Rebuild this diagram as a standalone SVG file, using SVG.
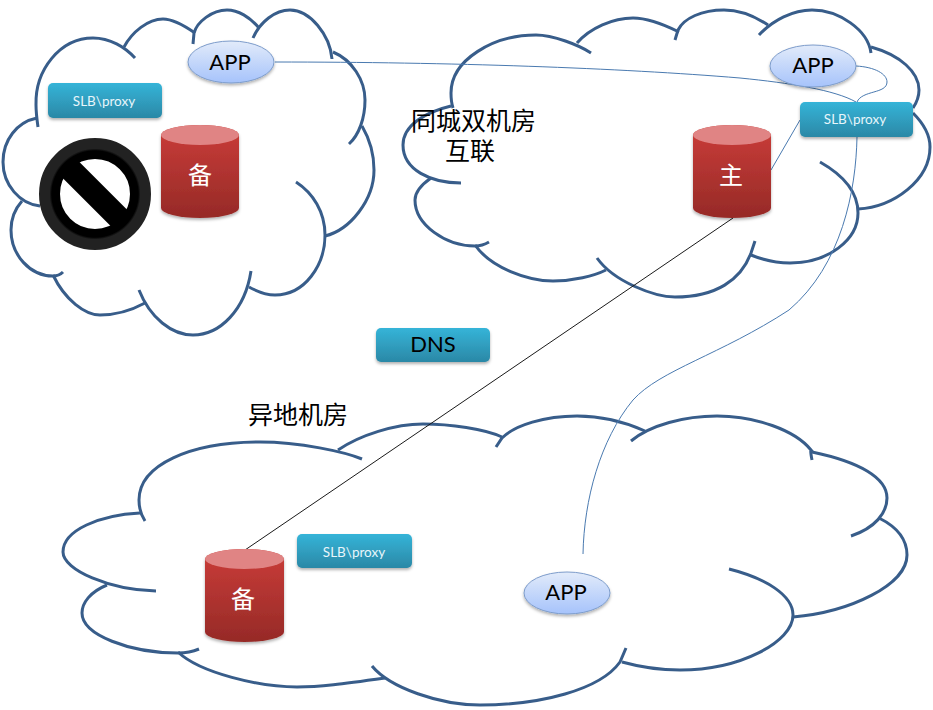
<svg xmlns="http://www.w3.org/2000/svg" width="933" height="710" viewBox="0 0 933 710">
<style>
.cloud path{fill:none;stroke:#385d8a;stroke-width:3;stroke-linecap:butt}
.thin{fill:none;stroke:#4a7ab0;stroke-width:1}
.box{fill:url(#slb);filter:url(#sh)}
.slbt{font-family:"Lato","Open Sans",sans-serif;font-size:13.5px;fill:#e8f6fb;text-anchor:middle}
.app{fill:url(#appg);stroke:#7d9ccb;stroke-width:1;filter:url(#sh)}
.appt{font-family:"Lato","Open Sans",sans-serif;font-size:22px;fill:#000;text-anchor:middle}
.cjk{font-family:"Noto Sans CJK SC","Liberation Serif",serif;font-size:25px;fill:#000}
.cylb{fill:url(#cyl);filter:url(#sh)}
.cylt{fill:#e08484}
.cylc{font-family:"Noto Sans CJK SC",sans-serif;font-size:24px;fill:#fff;text-anchor:middle}
</style>
<defs>
<linearGradient id="slb" x1="0" y1="0" x2="0" y2="1"><stop offset="0" stop-color="#35b4d8"/><stop offset="1" stop-color="#2b88a6"/></linearGradient>
<linearGradient id="appg" x1="0" y1="0" x2="0" y2="1"><stop offset="0" stop-color="#e2ebfa"/><stop offset="1" stop-color="#a6c3fb"/></linearGradient>
<linearGradient id="cyl" x1="0" y1="0" x2="0" y2="1"><stop offset="0" stop-color="#cb3d39"/><stop offset="1" stop-color="#962a27"/></linearGradient>
<radialGradient id="ring" cx="0.5" cy="0.5" r="0.5"><stop offset="0.62" stop-color="#333"/><stop offset="0.72" stop-color="#000"/><stop offset="0.95" stop-color="#000"/><stop offset="1" stop-color="#222"/></radialGradient>
<filter id="sh" x="-10%" y="-10%" width="120%" height="130%"><feDropShadow dx="0" dy="2" stdDeviation="1.5" flood-color="#000" flood-opacity="0.3"/></filter>
</defs>

<g id="cloud-left" class="cloud">
<path d="M135,58 C125,47 110,38 93,38 C60,38 35,70 36,105 C36,112 37,120 38,127"/>
<path d="M37,118 C17,122 3,140 3,162 C3,185 20,204 40,206"/>
<path d="M22,201 C14,210 11,220 11,230 C11,255 30,276 53,276 C57,276 60,275 63,272"/>
<path d="M53,275 C65,300 85,315 100,315 C117,315 132,310 145,303"/>
<path d="M139,290 C150,318 172,335 193,335 C220,335 245,310 251,271"/>
<path d="M249,287 C258,292 265,295 275,295 C305,295 325,265 325,235 C325,212 313,193 296,182"/>
<path d="M325,236 C350,230 374,200 374,170 C374,152 369,138 362,126"/>
<path d="M349,144 C359,135 365,118 365,100 C365,80 352,60 333,52"/>
<path d="M332,59 C330,35 310,10 290,10 C275,10 260,22 253,38"/>
<path d="M259,28 C250,17 238,10 227,10 C212,10 197,22 194,33 L193,44"/>
<path d="M195,33 C182,24 172,19 163,19 C148,19 132,32 124,47"/>
</g>

<g id="cloud-right" class="cloud">
<path d="M591,53 C579,45 553,35 536,35 C493,35 451,60 451,93 C451,100 452,105 453,108"/>
<path d="M451,106 C426,112 403,125 403,145 C403,170 431,183 461,183"/>
<path d="M431,178 C421,185 415,193 415,200 C415,225 446,246 475,246 C479,246 484,245 489,242"/>
<path d="M475,245 C491,268 528,281 553,281 C573,281 594,276 606,270"/>
<path d="M597,258 C614,282 655,297 675,297 C716,297 741,280 751,253 L755,241"/>
<path d="M751,255 C766,261 777,263 790,263 C828,263 858,240 858,213 C858,192 843,175 820,162"/>
<path d="M858,209 C894,207 930,180 930,147 C930,133 922,122 913,113"/>
<path d="M913,108 C917,102 919,95 919,90 C919,72 900,55 871,47"/>
<path d="M871,53 C868,30 839,10 812,10 C793,10 773,20 759,35"/>
<path d="M768,25 C753,15 737,10 724,10 C702,10 684,18 678,30 L675,40"/>
<path d="M679,32 C661,23 646,18 633,18 C613,18 590,28 577,43"/>
</g>

<g id="cloud-bottom" class="cloud">
<path d="M362,459 C345,452 300,442 260,442 C190,442 139,465 139,500 C139,508 141,515 145,521"/>
<path d="M140,513 C100,515 63,530 63,552 C63,570 110,590 156,591"/>
<path d="M107,585 C90,592 82,603 82,613 C82,635 130,653 178,653 C185,653 192,652 199,649"/>
<path d="M178,652 C200,673 260,687 297,687 C320,687 342,684 385,678"/>
<path d="M372,666 C390,688 440,705 480,705 C540,705 600,690 620,662 L626,648"/>
<path d="M622,662 C640,667 660,670 680,670 C740,670 793,642 793,615 C793,595 765,578 729,569"/>
<path d="M793,617 C850,612 907,585 907,555 C907,540 897,527 879,518"/>
<path d="M851,536 C875,528 887,513 887,498 C887,478 860,462 812,452"/>
<path d="M812,460 C810,450 811,450 811,450 C795,430 755,416 717,416 C685,416 650,425 631,441"/>
<path d="M645,431 C625,422 600,416 577,416 C545,416 515,425 502,438 L496,447"/>
<path d="M502,437 C485,429 450,424 423,424 C395,424 360,435 338,450"/>
</g>

<g id="connectors">
<path class="thin" d="M275,62 C450,62 620,68 740,78 C790,83 835,90 856,102"/>
<path class="thin" d="M856,66 C875,67 887,74 887,82 C887,94 862,90 857,102"/>
<path class="thin" d="M771,170 L800,120"/>
<path class="thin" d="M857,137 C856,190 842,265 789,310 C720,355 660,370 633,400 C600,440 584,500 583,554"/>
<path d="M238,171 H694" fill="none" stroke="#000" stroke-width="4" filter="url(#sh)"/>
<path d="M733,218 L245,550" fill="none" stroke="#1a1a1a" stroke-width="1"/>
</g>

<g id="app-1"><ellipse class="app" cx="231" cy="62" rx="43" ry="21"/><text class="appt" x="230" y="70">APP</text></g>
<g id="app-2"><ellipse class="app" cx="813" cy="66" rx="43" ry="21"/><text class="appt" x="813" y="73">APP</text></g>
<g id="app-3"><ellipse class="app" cx="567" cy="593" rx="43" ry="21"/><text class="appt" x="566" y="600">APP</text></g>

<g id="slb-1"><rect class="box" x="48" y="83" width="114" height="35" rx="5"/><text class="slbt" x="104" y="106">SLB\proxy</text></g>
<g id="slb-2"><rect class="box" x="800" y="102" width="113" height="35" rx="5"/><text class="slbt" x="855" y="124">SLB\proxy</text></g>
<g id="slb-3"><rect class="box" x="297" y="534" width="115" height="34" rx="5"/><text class="slbt" x="354" y="557">SLB\proxy</text></g>
<g id="dns"><rect class="box" x="376" y="328" width="114" height="34" rx="5"/><text class="appt" x="433" y="352">DNS</text></g>

<g id="cyl-left"><path class="cylb" d="M161,135 A39,10 0 0 1 239,135 V208 A39,10 0 0 1 161,208 Z"/><ellipse class="cylt" cx="200" cy="135" rx="39" ry="10"/><text class="cylc" x="200" y="184">备</text></g>
<g id="cyl-right"><path class="cylb" d="M693,135 A39,10 0 0 1 771,135 V208 A39,10 0 0 1 693,208 Z"/><ellipse class="cylt" cx="732" cy="135" rx="39" ry="10"/><text class="cylc" x="731" y="184">主</text></g>
<g id="cyl-bottom"><path class="cylb" d="M205,559 A39.500,10 0 0 1 284,559 V632 A39.500,10 0 0 1 205,632 Z"/><ellipse class="cylt" cx="244.500" cy="559" rx="39.500" ry="10"/><text class="cylc" x="243" y="608">备</text></g>

<g id="prohibit">
<circle cx="95" cy="194" r="45.500" fill="none" stroke="url(#ring)" stroke-width="21"/>
<path d="M68,167 L122,221" stroke="#000" stroke-width="23" fill="none"/>
<circle cx="95" cy="194" r="56" fill="url(#ring)" opacity="0" />
</g>

<g id="labels">
<text class="cjk" x="411" y="130">同城双机房</text>
<text class="cjk" x="445" y="160">互联</text>
<text class="cjk" x="248" y="424">异地机房</text>
</g>
</svg>
